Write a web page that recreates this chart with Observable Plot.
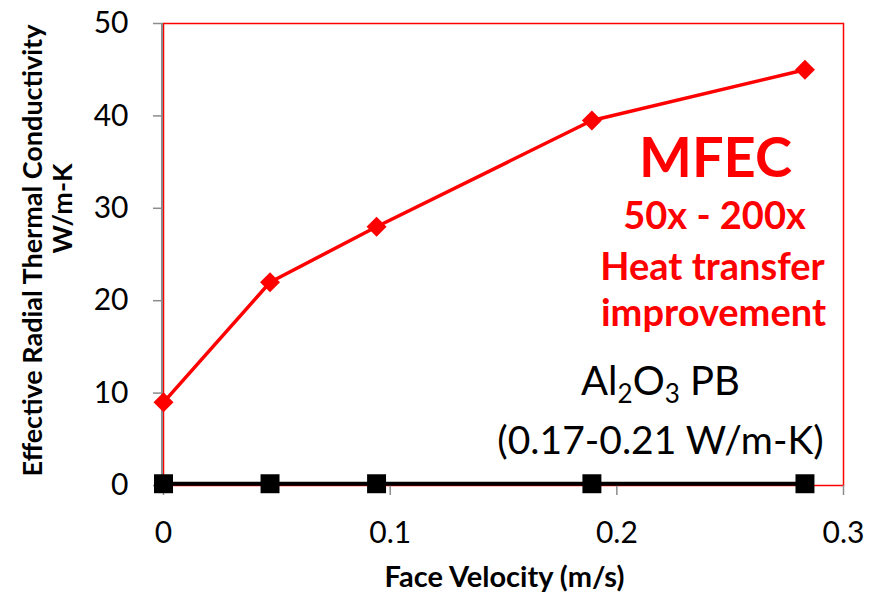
<!DOCTYPE html>
<html>
<head>
<meta charset="utf-8">
<script src="https://cdn.jsdelivr.net/npm/d3@7"></script>
<script src="https://cdn.jsdelivr.net/npm/@observablehq/plot@0.6"></script>
<style>
  html, body { margin: 0; padding: 0; background: #fff; }
  #chart svg { display: block; }
</style>
</head>
<body>
<div id="chart"></div>
<script>
// Data
const velocity = [0, 0.047, 0.094, 0.189, 0.283];          // Face velocity (m/s)
const mfecK = [9.0, 22.0, 28.0, 39.5, 45.0];                // MFEC effective radial k (W/m-K)
const aluminaK = [0.19, 0.19, 0.19, 0.19, 0.19];            // Al2O3 packed bed k (W/m-K)
const xTicks = [0, 0.1, 0.2, 0.3];
const yTicks = [0, 10, 20, 30, 40, 50];

const mfec = velocity.map((v, i) => ({v, k: mfecK[i]}));
const alumina = velocity.map((v, i) => ({v, k: aluminaK[i]}));

const RED = "#ff0000";
const GRAY = "#8c8c8c";
const FONT = "Lato, 'Open Sans', sans-serif";

const chart = Plot.plot({
  width: 882,
  height: 597,
  marginLeft: 163,
  marginRight: 39,
  marginTop: 23,
  marginBottom: 112,
  style: {fontFamily: FONT, background: "#fff", color: "#000", overflow: "visible"},
  x: {domain: [0, 0.3]},
  y: {domain: [0, 50]},
  marks: [
    Plot.frame({stroke: RED, strokeWidth: 1.5}),
    Plot.ruleX([0], {stroke: GRAY, strokeWidth: 2, dx: -1.5}),
    Plot.axisY({ticks: yTicks, tickSize: 10, tickPadding: 25, fontSize: 30, stroke: GRAY, strokeWidth: 1.5, fill: "#000", label: null, tickFormat: d => String(d)}),
    Plot.axisX({ticks: xTicks, tickSize: 10, tickPadding: 26, fontSize: 30, stroke: GRAY, strokeWidth: 1.5, fill: "#000", label: null, tickFormat: d => String(d)}),
    // MFEC series
    Plot.line(mfec, {x: "v", y: "k", stroke: RED, strokeWidth: 3.5}),
    Plot.dot(mfec, {x: "v", y: "k", symbol: "diamond2", r: 9, fill: RED, stroke: "none"}),
    // Al2O3 packed bed series
    Plot.line(alumina, {x: "v", y: "k", stroke: "#000", strokeWidth: 4}),
    Plot.dot(alumina, {x: "v", y: "k", symbol: "square", r: 10.7, fill: "#000", stroke: "none"}),
    // Annotations
    Plot.text(["MFEC"], {frameAnchor: "top-left", dx: 552, dy: 136, text: d => d, textAnchor: "middle", lineAnchor: "middle", fill: RED, fontSize: 56, fontWeight: "bold"}),
    Plot.text(["50x - 200x"], {frameAnchor: "top-left", dx: 551, dy: 193, text: d => d, textAnchor: "middle", lineAnchor: "middle", fill: RED, fontSize: 38, fontWeight: "bold"}),
    Plot.text(["Heat transfer"], {frameAnchor: "top-left", dx: 549, dy: 244, text: d => d, textAnchor: "middle", lineAnchor: "middle", fill: RED, fontSize: 38, fontWeight: "bold"}),
    Plot.text(["improvement"], {frameAnchor: "top-left", dx: 550, dy: 290, text: d => d, textAnchor: "middle", lineAnchor: "middle", fill: RED, fontSize: 38, fontWeight: "bold"}),
    Plot.text(["Al2O3 PB"], {frameAnchor: "top-left", dx: 497, dy: 359, text: d => d, textAnchor: "middle", lineAnchor: "middle", fill: "#000", fontSize: 40, className: "alox"}),
    Plot.text(["(0.17-0.21 W/m-K)"], {frameAnchor: "top-left", dx: 497, dy: 418, text: d => d, textAnchor: "middle", lineAnchor: "middle", fill: "#000", fontSize: 39}),
    // Axis titles
    Plot.text(["Face Velocity (m/s)"], {frameAnchor: "bottom", dx: 1, dy: 92, text: d => d, textAnchor: "middle", lineAnchor: "middle", fill: "#000", fontSize: 29, fontWeight: "bold"}),
    Plot.text(["Effective Radial Thermal Conductivity"], {frameAnchor: "left", dx: -130, dy: -4, rotate: -90, text: d => d, textAnchor: "middle", lineAnchor: "middle", fill: "#000", fontSize: 27, fontWeight: "bold"}),
    Plot.text(["W/m-K"], {frameAnchor: "left", dx: -100, dy: -46, rotate: -90, text: d => d, textAnchor: "middle", lineAnchor: "middle", fill: "#000", fontSize: 27, fontWeight: "bold"})
  ]
});

document.getElementById("chart").appendChild(chart);

// Subscripts for Al2O3
d3.select(chart).selectAll("g.alox text").each(function() {
  const t = d3.select(this);
  t.text(null);
  t.append("tspan").text("Al");
  t.append("tspan").text("2").attr("font-size", "0.65em").attr("dy", "0.3em");
  t.append("tspan").text("O").attr("dy", "-0.195em");
  t.append("tspan").text("3").attr("font-size", "0.65em").attr("dy", "0.3em");
  t.append("tspan").text(" PB").attr("dy", "-0.195em");
});
</script>
</body>
</html>
